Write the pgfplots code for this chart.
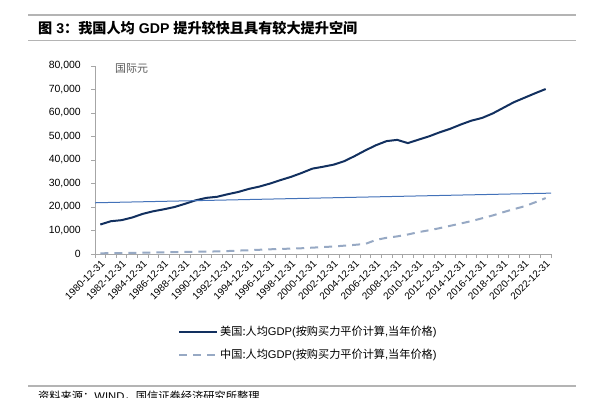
\documentclass[border=0pt]{standalone}
\usepackage{pgfplots}
\pgfplotsset{compat=1.18}
\usepackage{fontspec}
\setmainfont{Liberation Sans}
\newfontfamily\cjk{Noto Sans CJK SC}
\definecolor{usblue}{HTML}{12305F}
\definecolor{cngray}{HTML}{97A9C4}
\definecolor{trend}{HTML}{4372B9}
\definecolor{axgray}{HTML}{A6A6A6}
\definecolor{rule}{HTML}{B4B4B4}
\begin{document}
\begin{tikzpicture}[x=1bp,y=1bp]
\path[use as bounding box] (0,0) rectangle (595,397);
\draw[rule, line width=1.2bp] (28,382) -- (576,382);
\draw[rule, line width=1.6bp] (28,356.5) -- (576,356.5);
\node[anchor=west, inner sep=0, font=\fontsize{14.2}{16}\selectfont\bfseries] at (38,369) {{\cjk 图} 3{\cjk ：我国人均} GDP {\cjk 提升较快且具有较大提升空间}};
\draw[rule, line width=1.6bp] (28,11) -- (576,11);
\node[anchor=west, inner sep=0, font=\fontsize{11.3}{13}\selectfont] at (38,1) {{\cjk 资料来源：}WIND{\cjk ，国信证券经济研究所整理}};
\begin{axis}[
  at={(95bp,143bp)}, anchor=south west,
  scale only axis, width=456bp, height=188bp,
  xmin=1979.5, xmax=2022.5, ymin=0, ymax=80000,
  axis x line=bottom, axis y line=left,
  axis line style={draw=axgray, line width=0.9bp, -},
  ytick={0,10000,...,80000},
  scaled y ticks=false,
  yticklabel style={/pgf/number format/1000 sep={,}, /pgf/number format/assume math mode=true, font=\fontsize{10.5}{12}\selectfont, inner sep=2bp, xshift=-8bp},
  tick align=outside,
  major tick length=4bp, minor tick length=4bp,
  tick style={draw=axgray, line width=0.8bp},
  xtick={1980,1982,...,2022},
  major x tick style={draw=none},
  minor xtick={1979.5,1980.5,...,2022.5},
  xticklabels={1980-12-31,1982-12-31,1984-12-31,1986-12-31,1988-12-31,1990-12-31,1992-12-31,1994-12-31,1996-12-31,1998-12-31,2000-12-31,2002-12-31,2004-12-31,2006-12-31,2008-12-31,2010-12-31,2012-12-31,2014-12-31,2016-12-31,2018-12-31,2020-12-31,2022-12-31},
  xticklabel style={rotate=45, anchor=north east, font=\fontsize{10}{12}\selectfont, inner sep=1bp},
  legend cell align=left,
  legend style={at={(0.182,-0.372)}, anchor=north west, draw=none, fill=none, inner sep=0pt, row sep=8.5bp, font=\fontsize{11.2}{12}\selectfont},
  legend image code/.code={\draw[#1] (0bp,0bp) -- (38bp,0bp);},
  clip=false,
]
\addplot[usblue, line width=2bp] coordinates {
(1980,12550) (1981,13950) (1982,14400) (1983,15510) (1984,17080) (1985,18190)
(1986,19030) (1987,20000) (1988,21380) (1989,22860) (1990,23890) (1991,24340)
(1992,25420) (1993,26390) (1994,27690) (1995,28690) (1996,29970) (1997,31460)
(1998,32850) (1999,34510) (2000,36330) (2001,37130) (2002,38020) (2003,39490)
(2004,41710) (2005,44110) (2006,46300) (2007,48050) (2008,48570) (2009,47190)
(2010,48650) (2011,50070) (2012,51780) (2013,53290) (2014,55120) (2015,56760)
(2016,57900) (2017,59800) (2018,62200) (2019,64600) (2020,66500) (2021,68400)
(2022,70200)};
\addlegendentry{{\cjk 美国:人均}GDP({\cjk 按购买力平价计算},{\cjk 当年价格})}
\addplot[cngray, line width=2bp, dash pattern=on 8bp off 6bp] coordinates {
(1980,300) (1981,350) (1982,400) (1983,450) (1984,550) (1985,650)
(1986,700) (1987,800) (1988,900) (1989,950) (1990,1000) (1991,1100)
(1992,1250) (1993,1450) (1994,1600) (1995,1800) (1996,2000) (1997,2150)
(1998,2300) (1999,2450) (2000,2700) (2001,2950) (2002,3200) (2003,3550)
(2004,3900) (2005,4300) (2006,6000) (2007,6900) (2008,7500) (2009,8300)
(2010,9300) (2011,10100) (2012,11000) (2013,12000) (2014,13000) (2015,14000)
(2016,15200) (2017,16400) (2018,17800) (2019,19100) (2020,20300) (2021,22000)
(2022,23800)};
\addlegendentry{{\cjk 中国:人均}GDP({\cjk 按购买力平价计算},{\cjk 当年价格})}
\addplot[trend, line width=1bp, forget plot] coordinates {(1979.5,21800) (2022.5,25900)};
\end{axis}
\node[anchor=west, inner sep=0, text=black!65, font=\fontsize{11}{13}\selectfont\cjk] at (115,328) {国际元};
\end{tikzpicture}
\end{document}
